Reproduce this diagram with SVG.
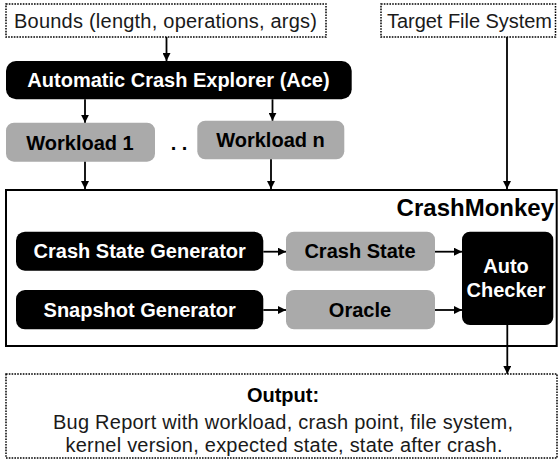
<svg xmlns="http://www.w3.org/2000/svg" width="559" height="461" viewBox="0 0 559 461">
<defs>
<marker id="ah" viewBox="0 0 10 10" refX="10" refY="5" markerWidth="8" markerHeight="8" markerUnits="userSpaceOnUse" orient="auto">
<path d="M0,0 L10,5 L0,10 z" fill="#000"/>
</marker>
</defs>
<style>
.dot{fill:#fff;stroke:#000;stroke-width:1.5;stroke-dasharray:1.6 1.2}
.blk{fill:#000}
.gry{fill:#aaaaaa}
.lt{font-family:"Liberation Sans",Arial,sans-serif;font-size:20px;fill:#1a1a1a}
.bw{font-family:"Liberation Sans",Arial,sans-serif;font-size:20px;font-weight:bold;fill:#fff;text-anchor:middle}
.bb{font-family:"Liberation Sans",Arial,sans-serif;font-size:20px;font-weight:bold;fill:#000;text-anchor:middle}
.conn line{stroke:#000;stroke-width:1.8;marker-end:url(#ah)}
</style>
<rect width="559" height="461" fill="#fff"/>

<g id="bounds">
<rect class="dot" x="6" y="4" width="320" height="33"/>
<text class="lt" x="14" y="27.5" textLength="303" lengthAdjust="spacing">Bounds (length, operations, args)</text>
</g>
<g id="target">
<rect class="dot" x="381" y="4" width="174.5" height="33"/>
<text class="lt" x="387" y="27.5" textLength="165" lengthAdjust="spacing">Target File System</text>
</g>
<g id="ace">
<rect class="blk" x="6" y="61" width="345.7" height="38.3" rx="10"/>
<text class="bw" x="178.5" y="87">Automatic Crash Explorer (Ace)</text>
</g>
<g id="workload1">
<rect class="gry" x="6" y="122.7" width="149" height="39" rx="8"/>
<text class="bb" x="80" y="150">Workload 1</text>
</g>
<g id="dots">
<text class="bb" x="179" y="150">. .</text>
</g>
<g id="workloadn">
<rect class="gry" x="197.3" y="120.7" width="147" height="38.6" rx="8"/>
<text class="bb" x="270.5" y="147.3">Workload n</text>
</g>
<g id="crashmonkey">
<rect x="6" y="190" width="550.7" height="156" fill="none" stroke="#000" stroke-width="2"/>
<text x="554" y="216" font-family="Liberation Sans, Arial, sans-serif" font-size="24" font-weight="bold" text-anchor="end">CrashMonkey</text>
</g>
<g id="csg">
<rect class="blk" x="16" y="231.7" width="247.3" height="39" rx="9"/>
<text class="bw" x="139.7" y="258.3">Crash State Generator</text>
</g>
<g id="crashstate">
<rect class="gry" x="286" y="231.7" width="149" height="39" rx="8"/>
<text class="bb" x="360" y="258.3">Crash State</text>
</g>
<g id="snapshot">
<rect class="blk" x="16" y="290" width="247.3" height="39.3" rx="9"/>
<text class="bw" x="139.7" y="317.3">Snapshot Generator</text>
</g>
<g id="oracle">
<rect class="gry" x="286" y="290" width="149" height="39.3" rx="8"/>
<text class="bb" x="360" y="317.3">Oracle</text>
</g>
<g id="autochecker">
<rect class="blk" x="462" y="231.7" width="91.3" height="93.3" rx="8"/>
<text class="bw" x="506" y="273.3">Auto</text>
<text class="bw" x="506" y="297.3">Checker</text>
</g>
<g id="output">
<rect class="dot" x="6" y="374" width="551" height="84"/>
<text class="bb" x="283" y="402">Output:</text>
<text class="lt" x="283" y="428.5" text-anchor="middle" textLength="460" lengthAdjust="spacing">Bug Report with workload, crash point, file system,</text>
<text class="lt" x="284" y="451.5" text-anchor="middle" textLength="437" lengthAdjust="spacing">kernel version, expected state, state after crash.</text>
</g>

<g id="connectors" class="conn">
<line x1="166.5" y1="37" x2="166.5" y2="61"/>
<line x1="85" y1="99.3" x2="85" y2="122.7"/>
<line x1="272.5" y1="99.3" x2="272.5" y2="120.7"/>
<line x1="85" y1="161.7" x2="85" y2="189"/>
<line x1="271" y1="159.3" x2="271" y2="189"/>
<line x1="507" y1="37" x2="507" y2="189"/>
<line x1="263.3" y1="251.7" x2="286" y2="251.7"/>
<line x1="435" y1="251.7" x2="462" y2="251.7"/>
<line x1="263.3" y1="310" x2="286" y2="310"/>
<line x1="435" y1="310" x2="462" y2="310"/>
<line x1="507.3" y1="325" x2="507.3" y2="374"/>
</g>
</svg>
